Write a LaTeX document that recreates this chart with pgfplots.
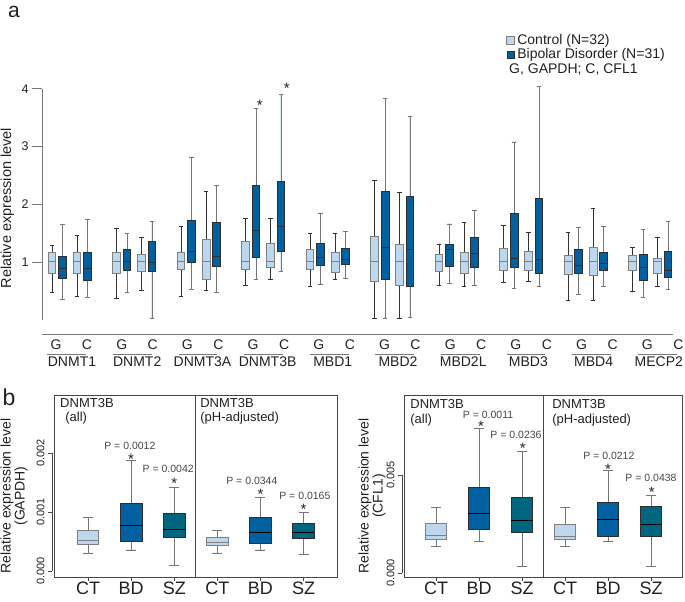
\documentclass[border=0pt]{standalone}
\usepackage{fontspec}
\setmainfont{Liberation Sans}
\usepackage{pgfplots}
\pgfplotsset{compat=1.18}
\usepgfplotslibrary{statistics}
\definecolor{ctrlfill}{RGB}{189,215,238}
\definecolor{bdfill}{RGB}{0,96,160}
\definecolor{szfill}{RGB}{0,102,128}
\definecolor{boxgrey}{RGB}{128,128,128}
\definecolor{darkline}{RGB}{45,45,50}
\definecolor{whiskdark}{RGB}{55,48,48}
\definecolor{whiskgrey}{RGB}{118,118,118}
\definecolor{axisgrey}{RGB}{120,120,120}
\definecolor{framegrey}{RGB}{70,70,70}
\definecolor{txt}{RGB}{35,31,32}
\definecolor{ptxt}{RGB}{70,70,70}
\pgfplotsset{
  aC/.style={draw=boxgrey, fill=ctrlfill, line width=0.8pt, boxplot/draw direction=y,
    boxplot/box extend=0.12, boxplot/whisker extend=0.075,
    boxplot/every whisker/.style={draw=whiskdark, line width=0.8pt},
    boxplot/every median/.style={draw=boxgrey, line width=1pt}},
  aB/.style={draw=darkline, fill=bdfill, line width=0.8pt, boxplot/draw direction=y,
    boxplot/box extend=0.12, boxplot/whisker extend=0.075,
    boxplot/every whisker/.style={draw=whiskgrey, line width=0.8pt},
    boxplot/every median/.style={draw=darkline, line width=1pt}},
  bC/.style={draw=boxgrey, fill=ctrlfill, line width=0.8pt, boxplot/draw direction=y,
    boxplot/box extend=0.5, boxplot/whisker extend=0.23,
    boxplot/every whisker/.style={draw=whiskgrey, line width=0.8pt},
    boxplot/every median/.style={draw=boxgrey, line width=1pt}},
  bB/.style={draw=darkline, fill=bdfill, line width=0.8pt, boxplot/draw direction=y,
    boxplot/box extend=0.5, boxplot/whisker extend=0.23,
    boxplot/every whisker/.style={draw=whiskgrey, line width=0.8pt},
    boxplot/every median/.style={draw=black, line width=1pt}},
  bS/.style={draw=darkline, fill=szfill, line width=0.8pt, boxplot/draw direction=y,
    boxplot/box extend=0.5, boxplot/whisker extend=0.23,
    boxplot/every whisker/.style={draw=whiskgrey, line width=0.8pt},
    boxplot/every median/.style={draw=black, line width=1pt}},
}
\newcommand{\bx}[7]{\addplot[#1, boxplot prepared={draw position=#2, lower whisker=#3, lower quartile=#4, median=#5, upper quartile=#6, upper whisker=#7}] coordinates {};}
\tikzset{
  ast/.style={font=\fontsize{15}{15}\selectfont, text=txt, anchor=base, yshift=-8.7pt, inner sep=0pt},
  pval/.style={font=\fontsize{10.5}{10.5}\selectfont, text=ptxt, anchor=center, inner sep=0pt},
  glab/.style={font=\fontsize{13}{13}\selectfont, text=txt, anchor=west, inner sep=0pt},
}
\begin{document}
\begin{tikzpicture}
\path[use as bounding box] (0,0) rectangle (685pt,602pt);
% ---------------- panel a ----------------
\begin{axis}[
  at={(42pt,282.3pt)}, anchor=south west, scale only axis,
  width=638.9pt, height=230.8pt,
  xmin=-0.155, xmax=9.75, ymin=0, ymax=4,
  clip=false,
  axis y line*=left, axis x line*=bottom,
  y axis line style={draw=axisgrey, line width=0.9pt, -},
  x axis line style={draw=axisgrey, line width=0.9pt, -, yshift=-14.3pt, shorten >=7.9pt},
  tick align=outside, major tick length=10pt,
  ytick={1,2,3,4}, yticklabels={1,2,3,4},
  ytick style={draw=axisgrey, line width=0.9pt},
  yticklabel style={font=\fontsize{12.5}{12.5}\selectfont, text=txt},
  xtick={0.062,0.543,1.081,1.561,2.099,2.580,3.118,3.598,4.136,4.617,5.155,5.636,6.174,6.654,7.192,7.673,8.211,8.691,9.229,9.710},
  xticklabels={G,C,G,C,G,C,G,C,G,C,G,C,G,C,G,C,G,C,G,C},
  xtick style={draw=none},
  xticklabel style={font=\fontsize{14}{14}\selectfont, text=txt, anchor=base, yshift=-19.6pt},
  extra x ticks={0.310,1.321,2.332,3.343,4.353,5.364,6.375,7.386,8.397,9.408},
  extra x tick labels={DNMT1,DNMT2,DNMT3A,DNMT3B,MBD1,MBD2,MBD2L,MBD3,MBD4,MECP2},
  extra x tick style={xticklabel style={yshift=-17.4pt}, xtick style={draw=none}},
  ylabel={Relative expression level},
  ylabel style={at={(axis description cs:-0.054,0.484)}, anchor=center, font=\fontsize{14.5}{14.5}\selectfont, text=txt},
  legend style={at={(0.726,1.242)}, anchor=north west, draw=none, fill=none,
    font=\fontsize{14}{14}\selectfont, text=txt, inner xsep=0pt, inner ysep=0pt,
    column sep=2pt, nodes={inner sep=0.5pt, text height=10.5pt, text depth=3pt}},
  legend cell align=left,
]
\addlegendimage{legend image code/.code={\draw[draw=boxgrey, fill=ctrlfill, line width=0.8pt] (0pt,-3.8pt) rectangle (8pt,3.8pt);}}
\addlegendentry{Control (N=32)}
\addlegendimage{legend image code/.code={\draw[draw=darkline, fill=bdfill, line width=0.8pt] (1pt,-3.3pt) rectangle (8pt,3.3pt);}}
\addlegendentry{Bipolar Disorder (N=31)}
% DNMT1
\bx{aC}{0}{0.48}{0.81}{1.00}{1.16}{1.29}
\bx{aB}{0.163}{0.35}{0.72}{0.88}{1.10}{1.65}
\bx{aC}{0.388}{0.40}{0.81}{1.00}{1.17}{1.46}
\bx{aB}{0.55}{0.38}{0.68}{0.88}{1.16}{1.74}
% DNMT2
\bx{aC}{1}{0.37}{0.80}{1.00}{1.17}{1.59}
\bx{aB}{1.163}{0.47}{0.86}{1.01}{1.22}{1.50}
\bx{aC}{1.388}{0.51}{0.84}{1.00}{1.13}{1.42}
\bx{aB}{1.55}{0.03}{0.84}{0.99}{1.35}{1.71}
% DNMT3A
\bx{aC}{2}{0.40}{0.87}{1.00}{1.17}{1.61}
\bx{aB}{2.163}{0.53}{0.99}{1.19}{1.72}{2.82}
\bx{aC}{2.388}{0.51}{0.70}{1.00}{1.39}{2.23}
\bx{aB}{2.55}{0.48}{0.92}{1.09}{1.68}{2.33}
% DNMT3B
\bx{aC}{3}{0.59}{0.87}{1.00}{1.35}{1.75}
\bx{aB}{3.163}{0.69}{1.08}{1.54}{2.33}{3.66}
\bx{aC}{3.388}{0.70}{0.90}{1.00}{1.32}{1.75}
\bx{aB}{3.55}{0.84}{1.19}{1.61}{2.39}{3.91}
% MBD1
\bx{aC}{4}{0.57}{0.88}{1.00}{1.21}{1.49}
\bx{aB}{4.163}{0.62}{0.94}{1.08}{1.32}{1.85}
\bx{aC}{4.388}{0.70}{0.82}{1.00}{1.17}{1.49}
\bx{aB}{4.55}{0.71}{0.95}{1.04}{1.23}{1.53}
% MBD2
\bx{aC}{5}{0.03}{0.66}{1.00}{1.45}{2.42}
\bx{aB}{5.163}{0.03}{0.69}{1.25}{2.23}{3.83}
\bx{aC}{5.388}{0.03}{0.60}{1.00}{1.30}{2.20}
\bx{aB}{5.55}{0.04}{0.57}{1.22}{2.14}{3.53}
% MBD2L
\bx{aC}{6}{0.59}{0.83}{1.00}{1.13}{1.31}
\bx{aB}{6.163}{0.63}{0.92}{1.22}{1.31}{1.66}
\bx{aC}{6.388}{0.58}{0.81}{1.00}{1.16}{1.68}
\bx{aB}{6.55}{0.60}{0.91}{1.14}{1.43}{1.90}
% MBD3
\bx{aC}{7}{0.64}{0.86}{1.00}{1.23}{1.63}
\bx{aB}{7.163}{0.54}{0.90}{1.06}{1.84}{3.08}
\bx{aC}{7.388}{0.67}{0.85}{1.00}{1.19}{1.52}
\bx{aB}{7.55}{0.58}{0.81}{1.05}{2.11}{4.05}
% MBD4
\bx{aC}{8}{0.34}{0.79}{1.00}{1.11}{1.51}
\bx{aB}{8.163}{0.43}{0.81}{0.94}{1.21}{1.60}
\bx{aC}{8.388}{0.34}{0.77}{1.00}{1.25}{1.93}
\bx{aB}{8.55}{0.58}{0.86}{0.98}{1.17}{1.61}
% MECP2
\bx{aC}{9}{0.49}{0.86}{1.00}{1.11}{1.25}
\bx{aB}{9.163}{0.39}{0.68}{0.91}{1.14}{1.56}
\bx{aC}{9.388}{0.58}{0.80}{1.00}{1.06}{1.43}
\bx{aB}{9.55}{0.53}{0.73}{0.85}{1.18}{1.70}
\node[ast] at (axis cs:3.22,3.77) {*};
\node[ast] at (axis cs:3.64,4.07) {*};
\pgfplotsinvokeforeach{0,...,9}{
  \draw[draw=axisgrey, line width=0.8pt] (axis cs:{-0.07+1.017*#1},-0.594) -- (axis cs:{0.53+1.017*#1},-0.594);
}
\node[anchor=west, font=\fontsize{14}{14}\selectfont, text=txt, inner sep=0pt] at (rel axis cs:0.731,1.086) {G, GAPDH; C, CFL1};
\end{axis}
\node[font=\fontsize{21}{21}\selectfont, text=txt, inner sep=0pt] at (14pt,590.5pt) {a};
\node[font=\fontsize{23}{23}\selectfont, text=txt, inner sep=0pt] at (9pt,205pt) {b};
% ---------------- panel b left (values in units of 0.001) ----------------
\begin{axis}[
  at={(54pt,25pt)}, anchor=south west, scale only axis,
  width=283.6pt, height=182pt,
  xmin=0.21, xmax=6.79, ymin=-0.1, ymax=3.0, clip=false,
  axis line style={draw=framegrey, line width=0.9pt},
  xtick={1,2,3,4,5,6}, xticklabels={CT,BD,SZ,CT,BD,SZ}, xtick pos=bottom, ytick=\empty,
  tick align=outside, major tick length=4pt,
  xtick style={draw=framegrey, line width=0.9pt},
  xticklabel style={font=\fontsize{18}{18}\selectfont, text=txt, inner sep=0pt, anchor=north, yshift=-1pt},
]
\bx{bC}{1}{0.31}{0.45}{0.52}{0.70}{0.91}
\bx{bB}{2}{0.36}{0.51}{0.78}{1.15}{1.88}
\bx{bS}{3}{0.10}{0.57}{0.71}{0.98}{1.43}
\bx{bC}{4}{0.31}{0.44}{0.49}{0.58}{0.70}
\bx{bB}{5}{0.36}{0.48}{0.66}{0.92}{1.25}
\bx{bS}{6}{0.29}{0.55}{0.66}{0.81}{1.00}
\draw[draw=framegrey, line width=0.9pt] (axis cs:3.5,-0.1) -- (axis cs:3.5,3.0);
\node[glab] at (axis cs:0.35,2.862) {DNMT3B};
\node[glab] at (axis cs:0.47,2.606) {(all)};
\node[glab] at (axis cs:3.6,2.862) {DNMT3B};
\node[glab] at (axis cs:3.6,2.606) {(pH-adjusted)};
\node[pval] at (axis cs:1.97,2.13) {P = 0.0012};
\node[pval] at (axis cs:2.86,1.74) {P = 0.0042};
\node[pval] at (axis cs:4.80,1.53) {P = 0.0344};
\node[pval] at (axis cs:6.03,1.28) {P = 0.0165};
\node[ast] at (axis cs:2,1.96) {*};
\node[ast] at (axis cs:3,1.55) {*};
\node[ast] at (axis cs:5,1.36) {*};
\node[ast] at (axis cs:6,1.11) {*};
\end{axis}
\begin{axis}[
  at={(52pt,31pt)}, anchor=south west, scale only axis,
  width=10pt, height=118pt, xmin=0, xmax=1, ymin=0, ymax=2,
  axis y line*=left, axis x line=none, xtick=\empty,
  y axis line style={draw=framegrey, line width=0.9pt, -},
  ytick={0,1,2}, yticklabels={0.000,0.001,0.002},
  tick align=outside, major tick length=4pt,
  ytick style={draw=framegrey, line width=0.9pt},
  yticklabel style={rotate=90, anchor=south, font=\fontsize{11}{11}\selectfont, text=txt},
]
\addplot[draw=none] coordinates {(0,0)};
\end{axis}
\node[rotate=90, align=center, font=\fontsize{14}{14}\selectfont, text=txt, inner sep=0pt] at (14pt,106pt) {Relative expression level\\(GAPDH)};
% ---------------- panel b right (values in units of 0.001) ----------------
\begin{axis}[
  at={(404pt,25pt)}, anchor=south west, scale only axis,
  width=278pt, height=182pt,
  xmin=0.256, xmax=6.72, ymin=-0.2, ymax=9.08, clip=false,
  axis line style={draw=framegrey, line width=0.9pt},
  xtick={1,2,3,4,5,6}, xticklabels={CT,BD,SZ,CT,BD,SZ}, xtick pos=bottom, ytick=\empty,
  tick align=outside, major tick length=4pt,
  xtick style={draw=framegrey, line width=0.9pt},
  xticklabel style={font=\fontsize{18}{18}\selectfont, text=txt, inner sep=0pt, anchor=north, yshift=-1pt},
]
\bx{bC}{1}{1.35}{1.70}{1.92}{2.52}{3.34}
\bx{bB}{2}{1.61}{2.21}{3.03}{4.37}{7.38}
\bx{bS}{3}{0.33}{2.09}{2.67}{3.85}{6.18}
\bx{bC}{4}{1.35}{1.70}{1.87}{2.47}{3.34}
\bx{bB}{5}{1.61}{1.87}{2.72}{3.58}{5.22}
\bx{bS}{6}{0.33}{1.87}{2.48}{3.41}{3.97}
\draw[draw=framegrey, line width=0.9pt] (axis cs:3.5,-0.2) -- (axis cs:3.5,9.08);
\node[glab] at (axis cs:0.40,8.62) {DNMT3B};
\node[glab] at (axis cs:0.40,7.8) {(all)};
\node[glab] at (axis cs:3.70,8.62) {DNMT3B};
\node[glab] at (axis cs:3.70,7.8) {(pH-adjusted)};
\node[pval] at (axis cs:2.21,8.06) {P = 0.0011};
\node[pval] at (axis cs:2.86,7.04) {P = 0.0236};
\node[pval] at (axis cs:5.02,5.97) {P = 0.0212};
\node[pval] at (axis cs:6.00,4.85) {P = 0.0438};
\node[ast] at (axis cs:2.05,7.65) {*};
\node[ast] at (axis cs:3.02,6.53) {*};
\node[ast] at (axis cs:5.0,5.46) {*};
\node[ast] at (axis cs:6.02,4.29) {*};
\end{axis}
\begin{axis}[
  at={(402pt,29pt)}, anchor=south west, scale only axis,
  width=10pt, height=98pt, xmin=0, xmax=1, ymin=0, ymax=5,
  axis y line*=left, axis x line=none, xtick=\empty,
  y axis line style={draw=framegrey, line width=0.9pt, -},
  ytick={0,5}, yticklabels={0.000,0.005},
  tick align=outside, major tick length=4pt,
  ytick style={draw=framegrey, line width=0.9pt},
  yticklabel style={rotate=90, anchor=south, font=\fontsize{11}{11}\selectfont, text=txt},
]
\addplot[draw=none] coordinates {(0,0)};
\end{axis}
\node[rotate=90, align=center, font=\fontsize{14}{14}\selectfont, text=txt, inner sep=0pt] at (372pt,106pt) {Relative expression level\\(CFL1)};
\end{tikzpicture}
\end{document}
